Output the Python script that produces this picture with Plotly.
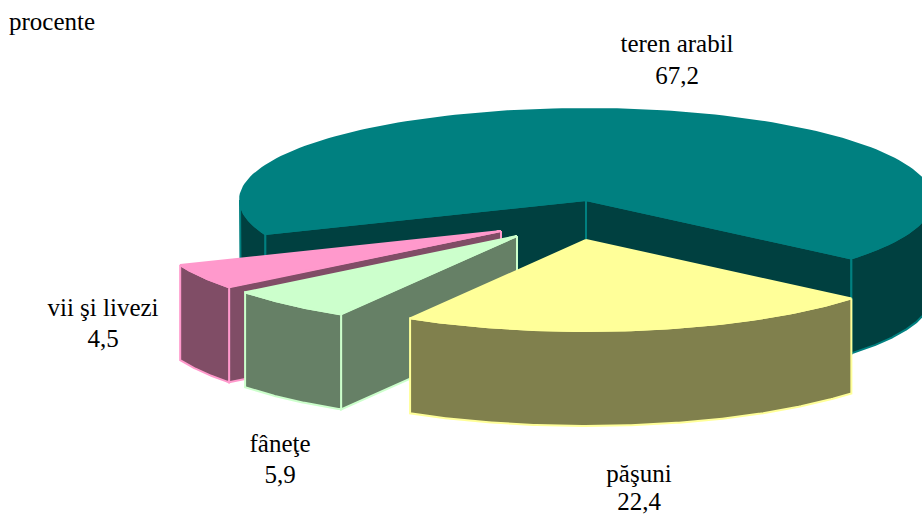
import numpy as np
import plotly.graph_objects as go

categories = ["teren arabil", "păşuni", "fâneţe", "vii şi livezi"]
values = [67.2, 22.4, 5.9, 4.5]
value_labels = ["67,2", "22,4", "5,9", "4,5"]
unit_label = "procente"

top_colors = ["#008080", "#FFFF99", "#CCFFCC", "#FF99CC"]
side_colors = ["#004040", "#80804D", "#668066", "#804D66"]

CX, CY, RX, RY, DEPTH = 586, 200, 346, 91, 95
START = 158.0 - 360  # degrees, clockwise on screen
explode = [(0, 0), (0, 40), (-69, 36), (-85, 31)]
label_xy = [(677, 46, 78), (639, 476, 504), (280, 446, 477), (103, 310, 341)]


def arc(a0, a1, ox, oy, dz=0):
    t = np.radians(np.linspace(a0, a1, 160))
    return CX + ox + RX * np.cos(t), CY + oy + dz + RY * np.sin(t)


fig = go.Figure()


def poly(xs, ys, fill, line):
    fig.add_trace(go.Scatter(x=list(xs), y=list(ys), mode="lines", fill="toself",
                             fillcolor=fill, line=dict(color=line, width=2),
                             hoverinfo="skip", showlegend=False))


angle = START
spans = [v / sum(values) * 360 for v in values]
bounds = []
for s in spans:
    bounds.append((angle, angle + s))
    angle += s

for i in [0, 3, 2, 1]:
    a0, a1 = bounds[i]
    ox, oy = explode[i]
    top, side = top_colors[i], side_colors[i]
    ax, ay = CX + ox, CY + oy
    # flat cut faces: only those turned towards the viewer
    faces = []
    if np.cos(np.radians(a0)) < 0:
        faces.append(a0)
    if np.cos(np.radians(a1)) > 0:
        faces.append(a1)
    for a in faces:
        ex, ey = arc(a, a, ox, oy)
        poly([ax, ex[0], ex[0], ax, ax], [ay, ey[0], ey[0] + DEPTH, ay + DEPTH, ay], side, top)
    # outer wall: the parts of the rim on the near half
    for k in range(-1, 2):
        lo, hi = max(a0, 360 * k), min(a1, 360 * k + 180)
        if lo < hi:
            x, y = arc(lo, hi, ox, oy)
            xb, yb = arc(hi, lo, ox, oy, DEPTH)
            poly(np.r_[x, xb, x[0]], np.r_[y, yb, y[0]], side, top)
    x, y = arc(a0, a1, ox, oy)
    poly(np.r_[ax, x, ax], np.r_[ay, y, ay], top, top)

for name, val, (lx, y1, y2) in zip(categories, value_labels, label_xy):
    fig.add_trace(go.Scatter(x=[lx, lx], y=[y1, y2], mode="text", text=[name, val],
                             textposition="middle center", hoverinfo="skip", showlegend=False,
                             textfont=dict(family="Liberation Serif", size=25, color="#000000")))

fig.add_annotation(x=7, y=21, text=unit_label, showarrow=False, xanchor="left", yanchor="middle",
                   font=dict(family="Liberation Serif", size=25, color="#000000"))

fig.update_xaxes(range=[0, 922], visible=False)
fig.update_yaxes(range=[516, 0], visible=False)
fig.update_layout(width=922, height=516, margin=dict(l=0, r=0, t=0, b=0),
                  plot_bgcolor="#FFFFFF", paper_bgcolor="#FFFFFF", showlegend=False)
fig.write_html("out.html", config={"displayModeBar": False},
               post_script="document.body.style.margin='0';")
